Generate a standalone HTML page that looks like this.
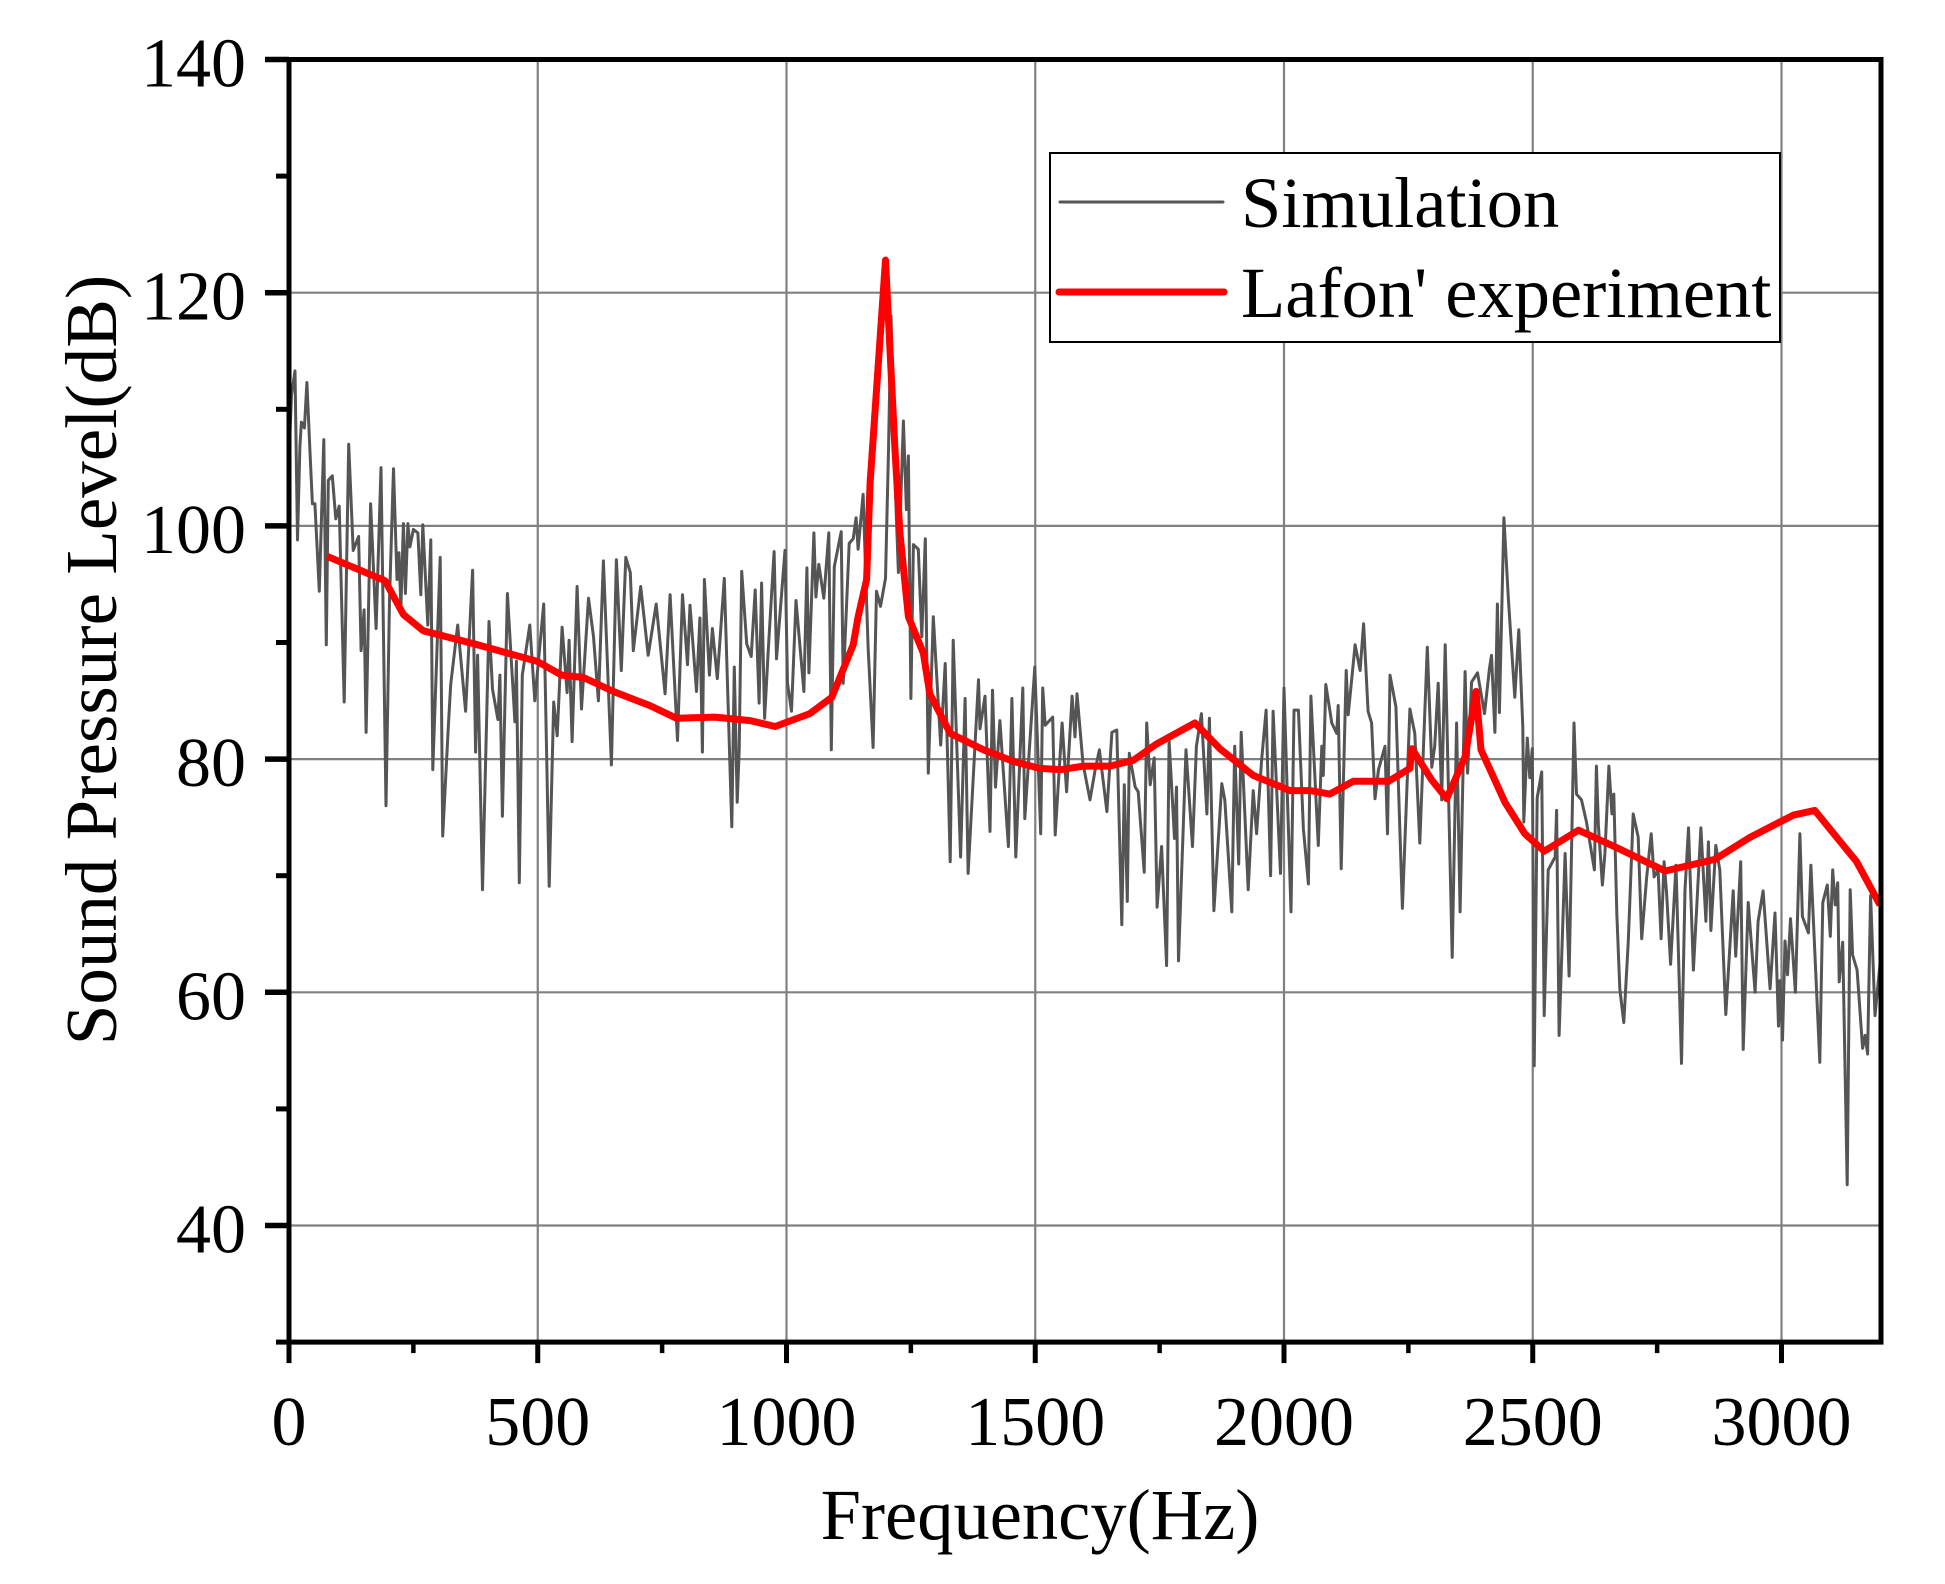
<!DOCTYPE html>
<html lang="en">
<head>
<meta charset="utf-8">
<title>Sound Pressure Level vs Frequency</title>
<style>
html,body{margin:0;padding:0;background:#fff;width:1945px;height:1584px;overflow:hidden}
svg{display:block}
text{font-family:"Liberation Serif","Times New Roman",serif;fill:#000}
</style>
</head>
<body>
<svg id="chart" xmlns="http://www.w3.org/2000/svg" width="1945" height="1584" viewBox="0 0 1945 1584">
  <rect x="0" y="0" width="1945" height="1584" fill="#fff"/>
  <defs><clipPath id="plot-clip"><rect x="289" y="59" width="1592" height="1283"/></clipPath></defs>
  <g id="grid"></g>
  <g id="series"></g>
  <g id="axes"></g>
  <text x="1040" y="1539" font-size="72.5" text-anchor="middle">Frequency(Hz)</text>
  <text transform="translate(116 660) rotate(-90)" font-size="73" text-anchor="middle">Sound Pressure Level(dB)</text>
  <g>
    <rect x="1050" y="153" width="730" height="189" fill="#fff" stroke="#000" stroke-width="2"/>
    <line x1="1060" y1="202" x2="1223" y2="202" stroke="#555" stroke-width="3" stroke-linecap="round"/>
    <text x="1241" y="227" font-size="72.5">Simulation</text>
    <line x1="1059" y1="292" x2="1224" y2="292" stroke="#f00" stroke-width="7" stroke-linecap="round"/>
    <text x="1241" y="317" font-size="72.5">Lafon' experiment</text>
  </g>
</svg>
<script>
const xMajorTicks = [0,500,1000,1500,2000,2500,3000];
const xMinorTicks = [250,750,1250,1750,2250,2750];
const yMajorTicks = [40,60,80,100,120,140];
const yMinorTicks = [30,50,70,90,110,130];
const xGridValues = [500,1000,1500,2000,2500,3000];
const yGridValues = [40,60,80,100,120];

const simFreq = [
2,5,12,17,22,25,31,36,42,47,
52,61,70,75,79,87,94,101,111,120,
129,140,145,151,155,164,175,185,195,202,
210,217,221,225,230,234,239,243,250,259,
265,269,279,285,289,304,309,320,325,339,
355,369,375,379,389,402,409,420,424,429,
439,454,457,463,469,484,494,512,523,532,
539,549,559,563,569,579,588,602,612,622,
632,648,658,668,677,686,692,707,722,738,
756,766,781,791,801,806,819,826,831,835,
845,851,861,875,890,895,901,905,910,920,
929,937,945,950,956,963,975,980,997,1002,
1010,1019,1035,1041,1045,1055,1059,1065,1075,1085,
1090,1096,1110,1114,1126,1134,1140,1144,1154,1164,
1174,1181,1189,1199,1205,1210,1218,1225,1235,1241,
1245,1250,1255,1265,1272,1279,1285,1295,1310,1319,
1329,1335,1350,1359,1365,1386,1389,1399,1409,1414,
1420,1429,1446,1453,1461,1475,1479,1499,1511,1515,
1520,1535,1540,1554,1563,1574,1580,1584,1596,1610,
1620,1629,1644,1654,1664,1674,1679,1685,1689,1701,
1707,1719,1724,1731,1739,1745,1754,1764,1769,1780,
1784,1788,1803,1816,1824,1834,1845,1850,1859,1875,
1881,1895,1901,1909,1914,1928,1938,1945,1955,1964,
1973,1978,1993,2000,2014,2020,2029,2039,2049,2054,
2069,2076,2079,2084,2096,2106,2109,2115,2125,2129,
2143,2153,2160,2169,2176,2183,2190,2203,2208,2213,
2225,2238,2253,2263,2273,2288,2297,2303,2310,2317,
2324,2338,2347,2354,2364,2369,2377,2389,2403,2413,
2417,2424,2429,2433,2442,2451,2464,2472,2480,2482,
2489,2494,2499,2503,2509,2518,2523,2531,2545,2548,
2553,2565,2573,2583,2588,2598,2608,2624,2628,2632,
2640,2645,2653,2659,2663,2669,2675,2683,2692,2702,
2712,2719,2729,2738,2744,2752,2758,2764,2769,2777,
2788,2799,2806,2813,2823,2838,2848,2853,2858,2868,
2876,2888,2903,2908,2918,2923,2933,2947,2953,2963,
2977,2987,2994,2997,3002,3007,3012,3018,3028,3037,
3042,3054,3059,3077,3083,3092,3098,3103,3108,3113,
3116,3123,3132,3138,3143,3152,3163,3168,3173,3179,
3188,3198
];
const simLevel = [
108,111.2,113.3,98.8,106.8,108.9,108.4,112.3,106.5,101.9,
101.9,94.4,107.4,89.8,103.9,104.3,100.6,101.7,84.9,107,
97.9,99.1,89.3,92.8,82.3,101.9,91.2,105,76,93.6,
104.9,95.4,97.7,93,100.2,94.2,100.2,98.2,99.7,99.4,
94.1,100.1,91.5,98.8,79.1,97.3,73.4,82.6,86.4,91.5,
84.1,96.2,80.6,88.9,68.8,91.8,86,83.4,87.2,75.1,
94.2,83.2,88.4,69.4,87.2,91.5,85,93.3,69.1,84.9,
82,91.3,85.7,90.2,81.5,94.8,84.3,93.8,90.5,85,
97,79.5,97.1,87.6,97.3,96,89.3,94.8,88.9,93.3,
85.6,94.1,81.6,94.1,88.1,93.2,85.8,92.1,80.6,95.4,
87.2,91.2,86.9,95.5,74.2,87.9,76.3,80.8,96.1,89.9,
88.8,94.5,84.8,95.1,83.5,89.1,97.8,88.6,97.9,86.5,
84.1,93.6,85.8,96.4,87.4,99.4,93.9,96.7,93.8,99.4,
80.8,96.5,99.5,86.5,98.5,98.9,100.7,98,102.7,89.6,
81,94.4,93.1,95.5,106.5,118,104,96,109,101.4,
106,85.2,98.4,98,90.5,98.9,78.8,92.2,81.2,88.2,
71.2,90.2,71.6,85.2,70.2,86.8,82.6,85.4,73.8,85.9,
77.6,83.3,72.5,85.2,71.6,86.1,74.9,87.9,73.6,86.1,
82.9,83.6,73.5,83.1,77.2,85.4,81.9,85.6,79.6,76.5,
79,80.8,75.5,82.3,82.5,65.8,77.8,67.8,80.5,77.6,
77.2,70.3,83.1,77.8,80.1,67.3,72.5,62.3,81.6,73.2,
77.6,62.7,80.8,72.5,81.1,83.9,75.3,83.5,67,77.9,
76.5,66.9,81.1,71,82.3,68.8,77.3,73.6,79.9,84.2,
70,84.1,70.2,86.1,66.9,84.2,84.2,74,69.3,85.4,
72.6,81.1,78.6,86.4,83.1,82.2,84.6,70.6,87.6,83.8,
89.8,87.6,91.6,84.1,83.1,76.6,79.1,81.1,73.6,87.2,
84.5,67.2,84.3,82.2,72.8,89.6,79.3,81.1,86.5,76.5,
89.8,63,83.1,66.9,87.5,78.8,86.6,87.4,83.9,87.8,
88.9,82.3,93.3,84,100.7,93.7,85.3,91.1,82.8,74.6,
81.8,78.4,80.9,53.7,76.7,78.9,58,70.5,71.6,75.6,
56.3,71.9,61.4,83.1,77,76.5,74.6,70.5,79.4,74.3,
69.2,71.9,79.4,75.3,77,66.8,60.3,57.4,64.4,75.3,
73.3,64.6,69.9,73.6,69.9,70.5,64.6,71.2,68.5,62.4,
70.9,53.9,68.8,74.1,61.9,74.1,66.1,72.9,65.3,72.6,
70.5,58.1,68.7,63.1,71.2,55.1,67.7,60,66.1,68.7,
60.3,66.8,57.1,61,55.9,64.4,61.5,66.3,60,73.6,
66.5,65.1,70.9,54,67.7,69.2,64.8,70.5,67.5,69.4,
60.9,64.3,43.5,68.8,63.2,61.9,55.2,56.3,54.7,68.3,
58,62.4
];

const expFreq = [76,193,230,270,371,498,548,592,652,725,779,856,927,977,1047,1091,1134,1144,1161,1168,1199,1218,1228,1245,1275,1288,1329,1396,1456,1509,1553,1597,1650,1697,1744,1821,1871,1938,2012,2052,2092,2139,2210,2253,2257,2297,2327,2364,2386,2396,2444,2484,2523,2592,2669,2766,2866,2937,3024,3067,3151,3198];
const expLevel = [97.4,95.3,92.4,91,89.9,88.4,87.2,87,85.8,84.6,83.5,83.6,83.3,82.8,83.9,85.3,89.8,92.2,95.4,103.7,122.8,106.5,99.4,92.2,89.1,85.6,82.2,80.8,79.8,79.2,79.1,79.4,79.4,79.9,81.3,83.1,80.9,78.6,77.3,77.3,77,78.1,78.1,79.2,80.9,78.2,76.6,80.2,85.8,80.8,76.3,73.6,72.1,73.9,72.4,70.4,71.4,73.3,75.2,75.6,71.2,67.5];

const SVG_NS = 'http://www.w3.org/2000/svg';
const xScale = f => 289 + f * 0.4975;
const yScale = d => 59.5 + (140 - d) * 11.66;

function mk(tag, attrs, parent) {
  const el = document.createElementNS(SVG_NS, tag);
  for (const k in attrs) el.setAttribute(k, attrs[k]);
  parent.appendChild(el);
  return el;
}
const gridG = document.getElementById('grid');
const seriesG = document.getElementById('series');
const axesG = document.getElementById('axes');

xGridValues.forEach(v => {
  const el = mk('line', {x1: xScale(v), x2: xScale(v), y1: yScale(140), y2: yScale(30), stroke: '#808080', 'stroke-width': 2.2}, gridG);
  
  
});
yGridValues.forEach(v => {
  const el = mk('line', {x1: xScale(0), x2: xScale(3200), y1: yScale(v), y2: yScale(v), stroke: '#808080', 'stroke-width': 2.2}, gridG);
  
  
});

function pathFrom(fs, ls) {
  return fs.map((f, i) => (i ? 'L' : 'M') + xScale(f).toFixed(1) + ' ' + yScale(ls[i]).toFixed(1)).join('');
}
const simPath = mk('path', {d: pathFrom(simFreq, simLevel), fill: 'none', stroke: '#555', 'stroke-width': 3, 'stroke-linejoin': 'round', 'clip-path': 'url(#plot-clip)'}, seriesG);


const expPath = mk('path', {d: pathFrom(expFreq, expLevel), fill: 'none', stroke: '#f00', 'stroke-width': 7, 'stroke-linejoin': 'round', 'clip-path': 'url(#plot-clip)'}, seriesG);



const frame = mk('rect', {x: xScale(0), y: yScale(140), width: xScale(3200) - xScale(0), height: yScale(30) - yScale(140), fill: 'none', stroke: '#000', 'stroke-width': 5}, axesG);



xMajorTicks.forEach(v => {
  const t = mk('line', {x1: xScale(v), x2: xScale(v), y1: yScale(30), y2: yScale(30) + 21, stroke: '#000', 'stroke-width': 5}, axesG);
  
  
  const l = mk('text', {x: xScale(v), y: 1445, 'font-size': 70, 'text-anchor': 'middle'}, axesG);
  
  
  l.textContent = v;
});
xMinorTicks.forEach(v => {
  const t = mk('line', {x1: xScale(v), x2: xScale(v), y1: yScale(30), y2: yScale(30) + 11, stroke: '#000', 'stroke-width': 4.5}, axesG);
  
  
});
yMajorTicks.forEach(v => {
  const t = mk('line', {x1: xScale(0) - 24, x2: xScale(0), y1: yScale(v), y2: yScale(v), stroke: '#000', 'stroke-width': 5.5}, axesG);
  
  
  const l = mk('text', {x: 246, y: yScale(v) + 27, 'font-size': 70, 'text-anchor': 'end'}, axesG);
  
  
  l.textContent = v;
});
yMinorTicks.forEach(v => {
  const t = mk('line', {x1: xScale(0) - 13, x2: xScale(0), y1: yScale(v), y2: yScale(v), stroke: '#000', 'stroke-width': 5}, axesG);
  
  
});
</script>
</body>
</html>
